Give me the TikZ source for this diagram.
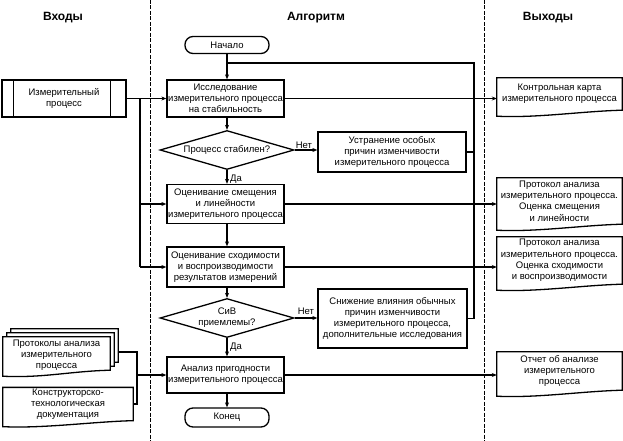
\documentclass[tikz,border=0pt]{standalone}
\usepackage{fontspec}
\setmainfont{Liberation Sans}
\usetikzlibrary{shapes.geometric,arrows.meta,calc}
\newcommand\docframe[2][]{%
 \draw[docline,#1] ([yshift=-6pt]#2.south west) -- (#2.north west) -- (#2.north east) -- (#2.south east)
   .. controls ([xshift=-40pt,yshift=-1pt]#2.south east) and ([xshift=40pt,yshift=-8pt]#2.south west) .. ([yshift=-6pt]#2.south west) -- cycle;}
\begin{document}
\begin{tikzpicture}[x=1pt,y=-1pt,
  every node/.style={font=\fontsize{9.5}{11.2}\selectfont, align=center, inner sep=1pt},
  lw/.style={line width=1.3pt},
  box/.style={draw, lw, minimum width=117pt},
  term/.style={draw, lw, rounded corners=8pt, minimum width=84pt},
  dia/.style={draw, lw, diamond, aspect=3.4, inner sep=0pt, minimum width=134pt, minimum height=39pt},
  docline/.style={lw},
  docn/.style={minimum width=125pt},
  head/.style={font=\fontsize{12}{14}\selectfont\bfseries},
  col/.style={line width=0.6pt, dash pattern=on 4pt off 1.5pt},
  conn/.style={lw},
  arr/.style={lw, -{Stealth[length=5pt,width=4pt]}},
  lbl/.style={inner sep=0pt}
]
\useasboundingbox (0,0) rectangle (623,441);
% columns
\draw[col] (150,0) -- (150,441);
\draw[col] (484,0) -- (484,441);
\node[head] (hIn) at (63,18) {Входы};
\node[head] (hAlg) at (316,18) {Алгоритм};
\node[head] (hOut) at (548,18) {Выходы};

% algorithm column
\node[term, minimum height=17pt] (start) at (227,45) {Начало};
\node[box, minimum height=37pt] (b1) at (225.5,98.5) {Исследование\\измерительного процесса\\на стабильность};
\node[dia] (d1) at (227,150) {Процесс стабилен?};
\node[box, minimum width=148pt, minimum height=40pt] (us) at (392,152) {Устранение особых\\причин изменчивости\\измерительного процесса};
\node[box, minimum height=39pt] (b2) at (225.5,204) {Оценивание смещения\\и линейности\\измерительного процесса};
\node[box, minimum height=40pt] (b3) at (225.5,267) {Оценивание сходимости\\и воспроизводимости\\результатов измерений};
\node[dia] (d2) at (227,318) {СиВ\\приемлемы?};
\node[box, minimum width=149pt, minimum height=59pt] (sn) at (392.5,318.5) {Снижение влияния обычных\\причин изменчивости\\измерительного процесса,\\дополнительные исследования};
\node[box, minimum height=36pt] (b4) at (225.5,375) {Анализ пригодности\\измерительного процесса};
\node[term, minimum height=19pt] (fin) at (227,417.5) {Конец};

% inputs
\node[draw, lw, minimum width=124pt, minimum height=37pt] (pp) at (64,98.5) {Измерительный\\процесс};
\draw[lw] ([xshift=12pt]pp.north west) -- ([xshift=12pt]pp.south west);
\draw[lw] ([xshift=-16pt]pp.north east) -- ([xshift=-16pt]pp.south east);

\node[minimum width=107pt, minimum height=33pt] (md3) at (64.5,345.5) {};
\node[minimum width=107pt, minimum height=33pt] (md2) at (60.5,349.5) {};
\node[minimum width=107pt, minimum height=33pt] (md1) at (56.5,353.5) {};
\docframe[fill=white]{md3}
\docframe[fill=white]{md2}
\docframe[fill=white]{md1}
\node (md1t) at (56.5,355) {Протоколы анализа\\измерительного\\процесса};
\node[minimum width=130pt, minimum height=30pt] (kd) at (68,404) {Конструкторско-\\технологическая\\документация};
\docframe{kd}

% outputs
\node[docn, minimum height=32pt] (o1) at (559.5,94) {Контрольная карта\\измерительного процесса};
\docframe{o1}
\node[docn, minimum height=46pt] (o2) at (559.5,201) {Протокол анализа\\измерительного процесса.\\Оценка смещения\\и линейности};
\docframe{o2}
\node[docn, minimum height=47pt] (o3) at (559.5,260.5) {Протокол анализа\\измерительного процесса.\\Оценка сходимости\\и воспроизводимости};
\docframe{o3}
\node[docn, minimum height=38pt] (o4) at (559.5,371) {Отчет об анализе\\измерительного\\процесса};
\docframe{o4}

% main flow
\draw[arr] (start.south) -- (start.south |- b1.north);
\draw[arr] (b1.south -| d1.north) -- (d1.north);
\draw[arr] (d1.south) -- (d1.south |- b2.north);
\draw[arr] (b2.south -| d1.south) -- (d1.south |- b3.north);
\draw[arr] (b3.south -| d2.north) -- (d2.north);
\draw[arr] (d2.south) -- (d2.south |- b4.north);
\draw[arr] (b4.south -| fin.north) -- (fin.north);
\node[lbl, anchor=west] (da1) at ($(d1.south)+(3,9)$) {Да};
\node[lbl, anchor=west] (da2) at ($(d2.south)+(3,9)$) {Да};

% no branches
\draw[arr] (d1.east) -- (d1.east -| us.west);
\draw[arr] (d2.east) -- (d2.east -| sn.west);
\node[lbl, anchor=south west] (net1) at ($(d1.east)+(1,-1.5)$) {Нет};
\node[lbl, anchor=south west] (net2) at ($(d2.east)+(3,-3)$) {Нет};

% loop back
\coordinate (loopT) at (474,63);
\coordinate (loopL) at (227,63);
\draw[conn] (us.east) -- (us.east -| loopT);
\draw[conn] (sn.east) -- (sn.east -| loopT) -- (loopT) -- (loopL);

% inputs connections
\coordinate (jL) at (140,98.5);
\draw[arr] (pp.east) -- (b1.west);
\draw[conn] (jL) -- (jL |- b3.west);
\draw[arr] (jL |- b2.west) -- (b2.west);
\draw[arr] (jL |- b3.west) -- (b3.west);
\coordinate (jA) at (137,352);
\coordinate (jB) at (137,404);
\coordinate (jC) at (137,375);
\draw[conn] (jA -| md3.east) -- (jA) -- (jB) -- (kd.east);
\draw[arr] (jC) -- (b4.west);

% outputs connections
\draw[arr] (b1.east) -- (b1.east -| o1.west);
\draw[arr] (b2.east) -- (b2.east -| o2.west);
\draw[arr] (b3.east) -- (b3.east -| o3.west);
\draw[arr] (b4.east) -- (b4.east -| o4.west);
\end{tikzpicture}
\end{document}
